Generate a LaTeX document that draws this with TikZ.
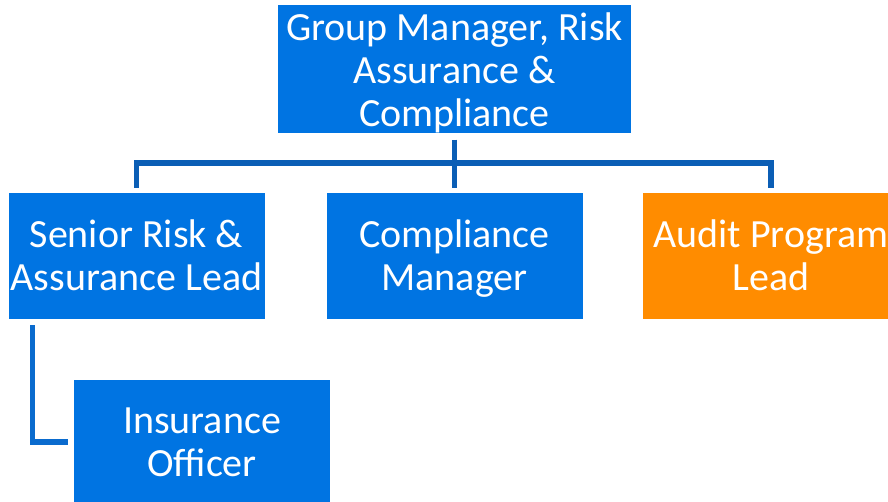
\documentclass[tikz,border=0pt]{standalone}
\usepackage{fontspec}
\setmainfont{Carlito}
\definecolor{boxblue}{RGB}{0,116,226}
\definecolor{boxorange}{RGB}{255,140,0}
\definecolor{linedark}{RGB}{11,94,181}
\definecolor{linemid}{RGB}{10,107,206}
\newcommand\firststrut{\rule[-12.9pt]{0pt}{52pt}}
\newcommand\reststrut{\rule[-12.9pt]{0pt}{43pt}}
\newcommand\gmstrut{\rule{0pt}{35.6pt}}
\begin{document}
\begin{tikzpicture}[x=1pt,y=-1pt,
  orgbox/.style={rectangle, fill=boxblue, text=white, inner sep=0pt, align=center,
    minimum width=256pt, minimum height=126pt, font=\fontsize{40}{43}\selectfont},
  conn/.style={line width=5.3pt}
]
\useasboundingbox (0,0) rectangle (888,502);
\fill[white] (0,0) rectangle (888,502);
\node[orgbox, minimum width=353pt, minimum height=128pt] (gm) at (454.5,69.3) {\gmstrut Group Manager, Risk\\Assurance \&\\Compliance};
\node[orgbox] (sr) at (136.5,256) {\firststrut Senior Risk \&\\\reststrut Assurance Lead};
\node[orgbox] (cm) at (454.5,256) {\firststrut Compliance\\\reststrut Manager};
\node[orgbox, fill=boxorange] (ap) at (771,256) {\firststrut Audit Program\\\reststrut Lead};
\node[orgbox, minimum height=124pt] (io) at (202,442) {\firststrut Insurance\\\reststrut Officer};
\draw[conn, linedark] ([yshift=-6pt]gm.south) -- ([yshift=5pt]cm.north);
\draw[conn, linedark] ([yshift=5pt]sr.north) |- (454.5,163) -| ([yshift=5pt]ap.north);
\draw[conn, linemid] ([xshift=24pt,yshift=-6pt]sr.south west) |- ([xshift=-6pt]io.west);
\end{tikzpicture}
\end{document}
